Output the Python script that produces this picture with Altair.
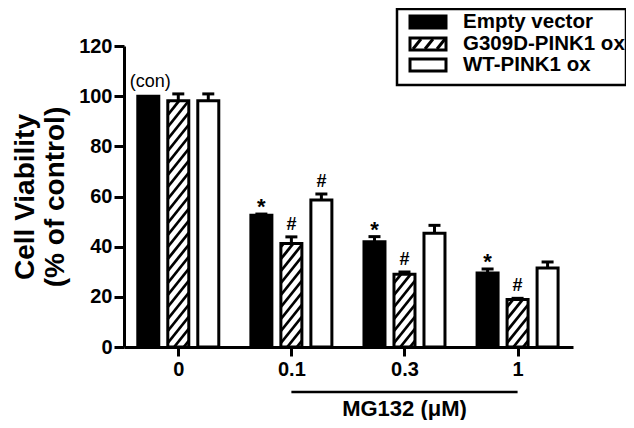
import altair as alt
import pandas as pd

# ---------------- data ----------------
groups = ["0", "0.1", "0.3", "1"]
series = ["Empty vector", "G309D-PINK1 ox", "WT-PINK1 ox"]
empty_mean = [100, 52.5, 42.0, 29.5]
empty_err = [0, 0.5, 2.0, 1.6]
g309_mean = [98.2, 41.3, 29.0, 18.9]
g309_err = [2.7, 2.6, 0.9, 0.5]
wt_mean = [98.2, 58.6, 45.3, 31.5]
wt_err = [2.7, 2.4, 3.2, 2.4]
empty_marks = ["(con)", "*", "*", "*"]
g309_marks = ["", "#", "#", "#"]
wt_marks = ["", "#", "", ""]
y_ticks = [0, 20, 40, 60, 80, 100, 120]
y_title = ["Cell Viability", "(% of control)"]
x_title = "MG132 (\u03bcM)"

# ---------------- layout / style ----------------
W, H = 449, 301
XMIN, XMAX, YMAX = -0.48, 3.49, 120
PXX = W / (XMAX - XMIN)
PXY = H / YMAX
OFF = 30 / PXX          # bar spacing inside a group
HALF = 10.5 / PXX       # bar half width
CAP = 6 / PXX           # error cap half width
FONT = "Liberation Sans"
SLOPE, PERIOD = 1.25, 12.0

means = [empty_mean, g309_mean, wt_mean]
errs = [empty_err, g309_err, wt_err]
labs = [empty_marks, g309_marks, wt_marks]

rows = []
for si, s in enumerate(series):
    for gi, g in enumerate(groups):
        xc = gi + (si - 1) * OFF
        m, e = means[si][gi], errs[si][gi]
        rows.append(dict(series=s, group=g, xc=xc, x0=xc - HALF, x1=xc + HALF,
                         c0=xc - CAP, c1=xc + CAP, mean=m, top=m + e, err=e,
                         base=0, label=labs[si][gi]))
bars = pd.DataFrame(rows)

# hatch segments for the G309D bars, derived from the bar values
hrows = []
for r in rows:
    if r["series"] != series[1]:
        continue
    xa, xb = -10.5, 10.5
    topp = r["mean"] * PXY
    kmin = -int((xb - xa) * SLOPE / PERIOD) - 2
    kmax = int(topp / PERIOD) + 2
    for k in range(kmin, kmax):
        c = k * PERIOD + 4
        xs = max(xa, xa + (0 - c) / SLOPE)
        xe = min(xb, xa + (topp - c) / SLOPE)
        if xe - xs > 0.3:
            ys = SLOPE * (xs - xa) + c
            ye = SLOPE * (xe - xa) + c
            hrows.append(dict(hx=r["xc"] + xs / PXX, hy=ys / PXY,
                              hx2=r["xc"] + xe / PXX, hy2=ye / PXY))
hatch = pd.DataFrame(hrows)

xscale = alt.Scale(domain=[XMIN, XMAX], nice=False, zero=False)
yscale = alt.Scale(domain=[0, YMAX], nice=False)

label_expr = "[" + ",".join("'%s'" % g for g in groups) + "][datum.value]"
x_axis = alt.Axis(values=list(range(len(groups))), labelExpr=label_expr, title="",
                  grid=False, domainColor="black", domainWidth=3, tickColor="black",
                  tickWidth=3, tickSize=9, labelFont=FONT, labelFontSize=20,
                  labelFontWeight="bold", labelColor="black", labelPadding=3,
                  labelFlush=False, labelOverlap=False)
y_axis = alt.Axis(values=y_ticks, title=y_title, grid=False, domainColor="black",
                  domainWidth=3, tickColor="black", tickWidth=3, tickSize=10,
                  labelFont=FONT, labelFontSize=20, labelFontWeight="bold",
                  labelColor="black", labelPadding=2, titleFont=FONT,
                  titleFontSize=28, titleFontWeight="bold", titleColor="black",
                  titleX=-85, titleY=H / 2, titleAlign="center",
                  titleBaseline="bottom", titleLineHeight=30)

base = alt.Chart(bars)

fill = base.mark_rect().encode(
    x=alt.X("x0:Q", scale=xscale, axis=x_axis),
    x2="x1:Q",
    y=alt.Y("mean:Q", scale=yscale, axis=y_axis),
    y2="base:Q",
    fill=alt.Fill("series:N", scale=alt.Scale(domain=series, range=["black", "white", "white"]),
                  legend=None),
)

hatch_l = alt.Chart(hatch).mark_rule(color="black", strokeWidth=2.8).encode(
    x=alt.X("hx:Q", scale=xscale), x2="hx2:Q",
    y=alt.Y("hy:Q", scale=yscale), y2="hy2:Q",
)

outline = base.mark_rect(fillOpacity=0, stroke="black", strokeWidth=3).encode(
    x=alt.X("x0:Q", scale=xscale), x2="x1:Q",
    y=alt.Y("mean:Q", scale=yscale), y2="base:Q",
)

err_base = base.transform_filter("datum.err > 0")
err_v = err_base.mark_rule(color="black", strokeWidth=3).encode(
    x=alt.X("xc:Q", scale=xscale),
    y=alt.Y("mean:Q", scale=yscale), y2="top:Q",
)
err_c = err_base.mark_rule(color="black", strokeWidth=3).encode(
    x=alt.X("c0:Q", scale=xscale), x2="c1:Q",
    y=alt.Y("top:Q", scale=yscale),
)

stars = base.transform_filter("datum.label == '*'").mark_text(
    font=FONT, fontSize=22, fontWeight="bold", color="black", baseline="alphabetic", dy=0
).encode(x=alt.X("xc:Q", scale=xscale), y=alt.Y("top:Q", scale=yscale), text="label:N")
hashes = base.transform_filter("datum.label == '#'").mark_text(
    font=FONT, fontSize=18, fontWeight="bold", color="black", baseline="alphabetic", dy=-7
).encode(x=alt.X("xc:Q", scale=xscale), y=alt.Y("top:Q", scale=yscale), text="label:N")
con = base.transform_filter("datum.label == '(con)'").mark_text(
    font=FONT, fontSize=18, color="black", baseline="alphabetic", dy=-9, dx=2
).encode(x=alt.X("xc:Q", scale=xscale), y=alt.Y("top:Q", scale=yscale), text="label:N")

# MG132 bracket and label below the axis
one = pd.DataFrame({"a": [groups.index("0.1")], "b": [groups.index("1")],
                    "m": [(groups.index("0.1") + groups.index("1")) / 2], "t": [x_title]})
bracket = alt.Chart(one).mark_rule(color="black", strokeWidth=2.5).encode(
    x=alt.X("a:Q", scale=xscale), x2="b:Q", y=alt.value(346))
mg_text = alt.Chart(one).mark_text(font=FONT, fontSize=22, fontWeight="bold", color="black",
                                   baseline="alphabetic").encode(
    x=alt.X("m:Q", scale=xscale), y=alt.value(370), text="t:N")

# custom legend (pixel positions relative to the plot area)
dummy = alt.Chart(pd.DataFrame({"a": [0]}))
layers = []
layers.append(dummy.mark_rect(fill="white", stroke="black", strokeWidth=2.5).encode(
    x=alt.value(273), x2=alt.value(502), y=alt.value(-37), y2=alt.value(39)))
row_y = [-24, -2, 19]
sym_fill = ["black", "white", "white"]
for i, s in enumerate(series):
    yc = row_y[i]
    layers.append(dummy.mark_rect(fill=sym_fill[i], stroke="black", strokeWidth=3).encode(
        x=alt.value(286), x2=alt.value(322), y=alt.value(yc - 6), y2=alt.value(yc + 6)))
    if i == 1:
        for sx in [289, 301, 313]:
            layers.append(dummy.mark_rule(color="black", strokeWidth=3).encode(
                x=alt.value(sx), x2=alt.value(sx + 8), y=alt.value(yc + 5), y2=alt.value(yc - 5)))
    layers.append(dummy.mark_text(text=s, font=FONT, fontSize=20.5, fontWeight="bold",
                                  color="black", align="left", baseline="middle").encode(
        x=alt.value(339), y=alt.value(yc)))

chart = alt.layer(fill, hatch_l, outline, err_v, err_c, stars, hashes, con,
                  bracket, mg_text, *layers).properties(
    width=W, height=H,
    autosize=alt.AutoSizeParams(type="none"),
    padding={"left": 116, "top": 38, "right": 53, "bottom": 73},
).configure_view(strokeWidth=0)

chart.save("out.html", embed_options={"renderer": "svg", "actions": False})
